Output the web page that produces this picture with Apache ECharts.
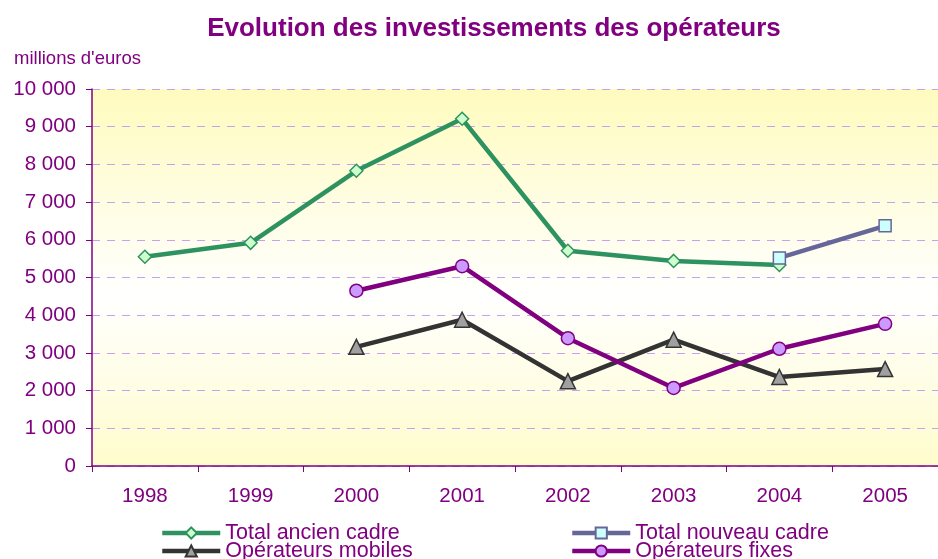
<!DOCTYPE html>
<html>
<head>
<meta charset="utf-8">
<script src="https://cdn.jsdelivr.net/npm/echarts@6/dist/echarts.min.js"></script>
<style>
	html, body { margin: 0; padding: 0; background: #ffffff; }
	#chart { width: 938px; height: 559px; }
</style>
</head>
<body>
<div id="chart"></div>
<script>
//Chart data
let years = ["1998", "1999", "2000", "2001", "2002", "2003", "2004", "2005"];
let total_ancien_cadre = [5550, 5920, 7830, 9210, 5710, 5440, 5330, null];
let total_nouveau_cadre = [null, null, null, null, null, null, 5520, 6370];
let operateurs_mobiles = [null, null, 3160, 3880, 2250, 3350, 2360, 2570];
let operateurs_fixes = [null, null, 4650, 5300, 3390, 2070, 3110, 3770];

let purple = "#800080";
let font_family = "'Liberation Sans', Arial, sans-serif";

function formatThousands (arg0_value) {
	//Convert from parameters
	let value = arg0_value;
	
	//Return statement
	return String(value).replace(/\B(?=(\d{3})+(?!\d))/g, " ");
}

function makeSeries (arg0_name, arg1_data, arg2_options) {
	//Convert from parameters
	let name = arg0_name;
	let data = arg1_data;
	let options = arg2_options;
	
	//Return statement
	return {
		name: name,
		type: "line",
		data: data,
		symbol: options.symbol,
		symbolSize: options.size,
		showAllSymbol: true,
		connectNulls: false,
		lineStyle: { color: options.line, width: 4.5 },
		itemStyle: { color: options.fill, borderColor: options.line, borderWidth: 1.5 }
	};
}

function makeLegend (arg0_name, arg1_left, arg2_top) {
	//Return statement
	return {
		left: arg1_left,
		top: arg2_top,
		padding: 0,
		itemWidth: 58,
		itemHeight: 14,
		data: [arg0_name],
		lineStyle: { width: 4.5 },
		textStyle: { color: purple, fontSize: 21.5, fontFamily: font_family }
	};
}

let chart = echarts.init(document.getElementById("chart"), null, { renderer: "canvas" });

chart.setOption({
	animation: false,
	textStyle: { fontFamily: font_family },
	title: [{
		text: "Evolution des investissements des opérateurs",
		left: 489,
		textAlign: "center",
		top: 11,
		textStyle: { color: purple, fontSize: 26, fontWeight: "bold", fontFamily: font_family }
	}, {
		text: "millions d'euros",
		left: 9,
		top: 44,
		textStyle: { color: purple, fontSize: 18.5, fontWeight: "normal", fontFamily: font_family }
	}],
	grid: {
		left: 92,
		top: 89,
		width: 857,
		height: 377,
		show: true,
		borderWidth: 0,
		backgroundColor: {
			type: "linear", x: 0, y: 0, x2: 0, y2: 1,
			colorStops: [
				{ offset: 0, color: "#FFFBBE" },
				{ offset: 0.55, color: "#FFFFFF" },
				{ offset: 1, color: "#FFFCCC" }
			]
		}
	},
	legend: [
		makeLegend("Total ancien cadre", 160, 522),
		makeLegend("Opérateurs mobiles", 160, 540),
		makeLegend("Total nouveau cadre", 570, 522),
		makeLegend("Opérateurs fixes", 570, 540)
	],
	xAxis: {
		type: "category",
		data: years,
		boundaryGap: true,
		axisLine: { lineStyle: { color: purple, width: 1.5 } },
		axisTick: { show: true, length: 6, lineStyle: { color: purple } },
		axisLabel: { color: purple, fontSize: 20.5, margin: 20, fontFamily: font_family },
		splitLine: { show: false }
	},
	yAxis: {
		type: "value",
		min: 0,
		max: 10000,
		interval: 1000,
		axisLine: { show: true, lineStyle: { color: purple, width: 1.5 } },
		axisTick: { show: true, length: 6, lineStyle: { color: purple } },
		axisLabel: {
			color: purple,
			fontSize: 20.5,
			margin: 16,
			fontFamily: font_family,
			formatter: (value) => formatThousands(value)
		},
		splitLine: { show: true, lineStyle: { color: "#C8A0F0", type: [8, 7], width: 1 } }
	},
	series: [
		makeSeries("Total ancien cadre", total_ancien_cadre, { symbol: "diamond", size: 13, line: "#2E9260", fill: "#CCFFCC" }),
		makeSeries("Total nouveau cadre", total_nouveau_cadre, { symbol: "rect", size: 12, line: "#666699", fill: "#CCFFFF" }),
		makeSeries("Opérateurs mobiles", operateurs_mobiles, { symbol: "triangle", size: 15, line: "#333333", fill: "#A0A0A0" }),
		makeSeries("Opérateurs fixes", operateurs_fixes, { symbol: "circle", size: 13, line: purple, fill: "#CC99FF" })
	]
});
</script>
</body>
</html>
